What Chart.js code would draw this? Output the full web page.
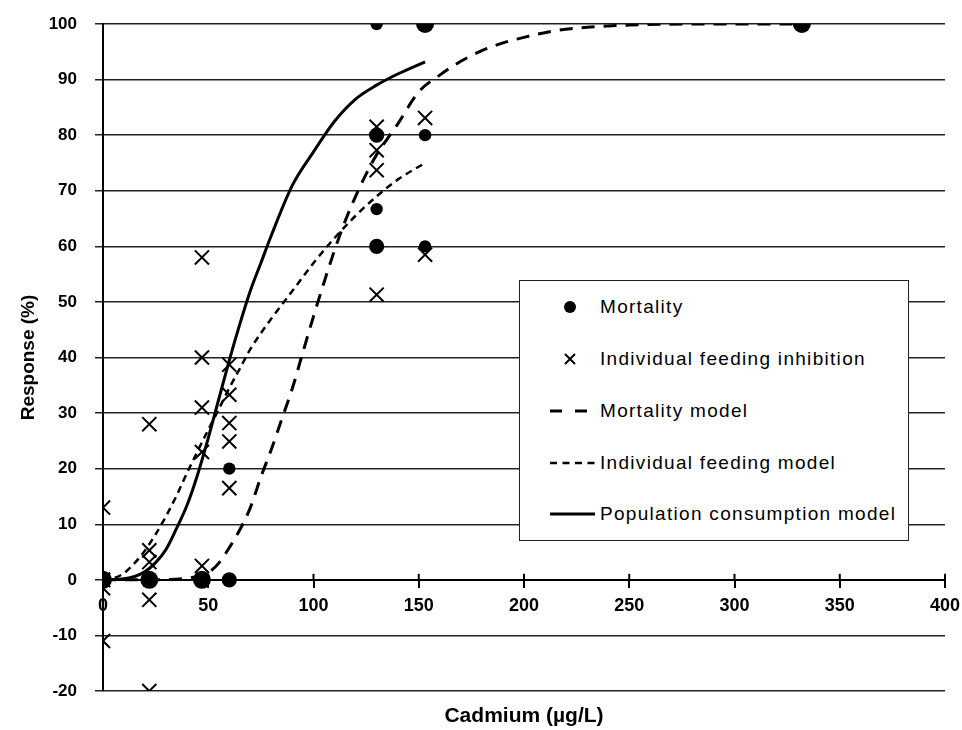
<!DOCTYPE html>
<html>
<head>
<meta charset="utf-8">
<script src="https://cdn.jsdelivr.net/npm/chart.js@4.4.1/dist/chart.umd.min.js"></script>
<style>
  body { margin: 0; background: #fff; }
  #wrap { position: relative; width: 962px; height: 730px; }
  #legend {
    position: absolute; left: 519px; top: 280px; width: 388px; height: 259px;
    border: 1.5px solid #222; background: #fff;
    font-family: "Liberation Sans", Arial, sans-serif; font-size: 19px; color: #000;
    letter-spacing: 1.3px;
  }
  .item { position: absolute; left: 28px; height: 24px; display: flex; align-items: center; white-space: nowrap; }
  .item svg { width: 50px; height: 24px; margin-right: 2px; }
</style>
</head>
<body>
<div id="wrap">
  <canvas id="chart"></canvas>
  <div id="legend"></div>
</div>
<script>
// observed mortality (% dead); count = how many replicates sit on the same spot
const mortX = [0, 22, 47, 60, 60, 130, 130, 130, 130, 153, 153, 153, 332];
const mortY = [0, 0, 0, 0, 20, 100, 80, 66.7, 60, 100, 80, 60, 100];
const mortCount = [3, 3, 3, 2, 1, 1, 2, 1, 2, 3, 1, 1, 3];

// individual feeding inhibition (%)
const feedX = [0, 0, 0, 0, 0, 22, 22, 22, 22, 22, 47, 47, 47, 47, 47,
  60, 60, 60, 60, 60, 130, 130, 130, 130, 153, 153];
const feedY = [13, 0, 0, -1.5, -11, 28, 5.3, 3.2, -3.6, -20, 58, 40, 31, 23, 2.5,
  38.7, 33.3, 28.2, 24.9, 16.5, 81.5, 77.3, 73.7, 51.3, 83.1, 58.5];

// model curves
const mortModelX = [0, 20, 40, 50, 55, 60, 65, 70, 75, 80, 85, 90, 95, 100, 105, 110, 115,
  120, 125, 130, 135, 140, 150, 160, 170, 180, 190, 200, 215, 230, 250, 280, 332];
const mortModelY = [0, 0, 0.3, 1.3, 3, 5.8, 9, 13, 18.5, 23.5, 29, 34.5, 41, 47.4, 53.5, 59.3, 64.5,
  69, 73, 76.5, 79.3, 82, 87.8, 90.8, 93.3, 95.2, 96.6, 97.6, 98.8, 99.4, 99.8, 100, 100];

const feedModelX = [0, 5, 10, 15, 20, 25, 30, 35, 40, 45, 50, 55, 60, 65, 70, 80, 90, 100, 110, 120, 130, 140, 153];
const feedModelY = [0, 0.3, 1.2, 3, 5.3, 8.2, 11.5, 15.2, 19.3, 23.2, 27, 30.7, 34.5, 38, 41.5, 47, 52, 57, 61.5, 65.5, 69, 72, 75];

const popModelX = [0, 10, 15, 20, 25, 30, 35, 40, 45, 50, 55, 60, 65, 70, 75, 80, 90, 100, 110, 120, 130, 140, 153];
const popModelY = [0, 0.2, 0.6, 1.5, 3.1, 5.5, 9.3, 13.5, 19, 25.5, 32.5, 39.5, 46, 52, 57, 62, 71, 77, 82.5, 86.5, 89, 91, 93.2];

const xTicks = [0, 50, 100, 150, 200, 250, 300, 350, 400];
const yTicks = [-20, -10, 0, 10, 20, 30, 40, 50, 60, 70, 80, 90, 100];

const pts = (xs, ys) => xs.map((x, i) => ({ x: x, y: ys[i] }));
const sans = '"Liberation Sans", Arial, sans-serif';

const datasets = [
  {
    label: "Mortality",
    data: pts(mortX, mortY),
    pointStyle: "circle",
    pointRadius: mortCount.map(n => 4.8 + 1.4 * n),
    backgroundColor: "#000",
    borderColor: "#000",
    borderWidth: 0
  },
  {
    label: "Individual feeding inhibition",
    data: pts(feedX, feedY),
    pointStyle: "crossRot",
    pointRadius: 10,
    borderColor: "#000",
    borderWidth: 2
  },
  {
    label: "Mortality model",
    data: pts(mortModelX, mortModelY),
    showLine: true, pointRadius: 0,
    cubicInterpolationMode: "monotone",
    borderColor: "#000", borderWidth: 3,
    borderDash: [13, 9]
  },
  {
    label: "Individual feeding model",
    data: pts(feedModelX, feedModelY),
    showLine: true, pointRadius: 0,
    cubicInterpolationMode: "monotone",
    borderColor: "#000", borderWidth: 2.5,
    borderDash: [7, 5]
  },
  {
    label: "Population consumption model",
    data: pts(popModelX, popModelY),
    showLine: true, pointRadius: 0,
    cubicInterpolationMode: "monotone",
    borderColor: "#000", borderWidth: 3
  }
];

// the x ticks cross the zero line: draw the part above it too
const crossTicks = {
  id: "crossTicks",
  afterDraw(chart) {
    const sx = chart.scales.x2;
    const y0 = chart.scales.y.getPixelForValue(0);
    const ctx = chart.ctx;
    ctx.save();
    ctx.strokeStyle = "#000";
    ctx.lineWidth = 2;
    xTicks.forEach(v => {
      const px = sx.getPixelForValue(v);
      ctx.beginPath();
      ctx.moveTo(px, y0 - 6);
      ctx.lineTo(px, y0);
      ctx.stroke();
    });
    ctx.restore();
  }
};

const myChart = new Chart(document.getElementById("chart"), {
  type: "scatter",
  data: { datasets: datasets },
  plugins: [crossTicks],
  options: {
    responsive: true,
    maintainAspectRatio: false,
    animation: false,
    layout: { padding: { top: 24, right: 17, left: 0, bottom: 0 } },
    plugins: { legend: { display: false }, tooltip: { enabled: false } },
    scales: {
      // bottom axis only carries the title
      x: {
        type: "linear", position: "bottom", min: 0, max: 400,
        ticks: { display: false },
        grid: { display: false },
        border: { display: false },
        title: {
          display: true, text: "Cadmium (µg/L)", color: "#000",
          font: { family: sans, size: 21, weight: "bold" },
          padding: { top: 0, bottom: 1 }
        },
        afterFit: s => { s.height = 39; s.paddingLeft = 0; s.paddingRight = 0; }
      },
      // visible axis crossing at y = 0
      x2: {
        type: "linear", position: { y: 0 }, min: 0, max: 400,
        afterBuildTicks: s => { s.ticks = xTicks.map(v => ({ value: v })); },
        ticks: {
          color: "#000", padding: 8, maxRotation: 0,
          font: { family: sans, size: 18, weight: "bold" }
        },
        grid: { drawOnChartArea: false, drawTicks: true, tickLength: 7, color: "#000", lineWidth: 2 },
        border: { display: true, color: "#000", width: 2 },
        afterFit: s => { s.height = 0; s.paddingLeft = 0; s.paddingRight = 0; }
      },
      y: {
        type: "linear", position: "left", min: -20, max: 100,
        afterBuildTicks: s => { s.ticks = yTicks.map(v => ({ value: v })); },
        ticks: {
          color: "#000", padding: 18,
          font: { family: sans, size: 17, weight: "bold" }
        },
        grid: { color: "#222", lineWidth: 1.5, tickLength: 8 },
        border: { display: true, color: "#000", width: 2 },
        title: {
          display: true, text: "Response (%)", color: "#000",
          font: { family: sans, size: 19, weight: "bold" },
          padding: { top: 17, bottom: 0 }
        },
        afterFit: s => { s.width = 103; s.paddingTop = 0; s.paddingBottom = 0; }
      }
    }
  }
});

// legend box inside the plot
function legendSymbol(ds) {
  if (ds.pointStyle === "circle")
    return '<circle cx="22" cy="12" r="6" fill="#000"/>';
  if (ds.pointStyle === "crossRot")
    return '<path d="M17 7 L27 17 M27 7 L17 17" stroke="#000" stroke-width="2"/>';
  if (!ds.borderDash)
    return '<line x1="2" y1="12" x2="47" y2="12" stroke="#000" stroke-width="3"/>';
  if (ds.borderDash[0] > 10)
    return '<line x1="2" y1="12" x2="39" y2="12" stroke="#000" stroke-width="3" stroke-dasharray="12 13"/>';
  return '<line x1="2" y1="12" x2="47" y2="12" stroke="#000" stroke-width="2.5" stroke-dasharray="7 5.5"/>';
}
const legend = document.getElementById("legend");
const rowTop = [14, 66, 118, 170, 221];
datasets.forEach((ds, i) => {
  const div = document.createElement("div");
  div.className = "item";
  div.style.top = rowTop[i] + "px";
  div.innerHTML = '<svg viewBox="0 0 50 24">' + legendSymbol(ds) + "</svg><span>" + ds.label + "</span>";
  legend.appendChild(div);
});
</script>
</body>
</html>
